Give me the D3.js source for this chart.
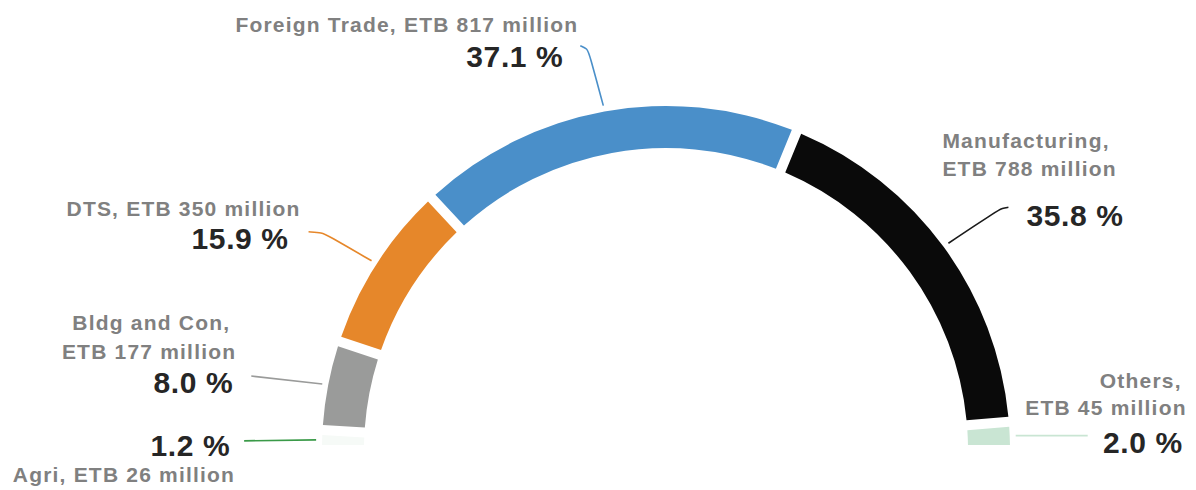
<!DOCTYPE html>
<html>
<head>
<meta charset="utf-8">
<script src="https://cdn.jsdelivr.net/npm/d3@7"></script>
<style>
  body { margin: 0; background: #fff; }
  .name { font-family: "Liberation Sans", Arial, sans-serif; font-weight: bold; font-size: 21px; fill: #808080; letter-spacing: 1.2px; }
  .pct { font-family: "Liberation Sans", Arial, sans-serif; font-weight: bold; font-size: 30px; fill: #262626; letter-spacing: 0.6px; }
</style>
</head>
<body>
<div id="chart"></div>
<script>
// data
var categories = ["Agri", "Bldg and Con", "DTS", "Foreign Trade", "Manufacturing", "Others"];
var amounts = [26, 177, 350, 817, 788, 45];        // ETB million
var shares = [1.2, 8.0, 15.9, 37.1, 35.8, 2.0];    // percent
var colors = ["#f6faf7", "#9a9b9a", "#e6872a", "#4a8fc9", "#0a0a0a", "#c9e5d3"];
var lineColors = ["#3a9a48", "#9a9b9a", "#e6872a", "#4a8fc9", "#1a1a1a", "#c9e5d3"];

var cfg = {
  width: 1196,
  height: 490,
  cx: 666,
  cy: 450,
  outer: 344,
  inner: 302,
  pad: 0.022
};

// label layout: leader points relative to the arc, texts relative to leader end
var layout = {
  "Agri":          { pts: [[0, 0], [-72, 1]], anchor: "end",
                     pct: [-14, 15], name: [[-9, 41]] },
  "Bldg and Con":  { pts: [[0, 0], [-71, -8]], anchor: "end",
                     pct: [-18, 17], name: [[-21, -46], [-15, -17]] },
  "DTS":           { pts: [[0, 0], [-45, -26], [-49, -28], [-63, -29]], anchor: "end",
                     pct: [-20, 17], name: [[-8, -16]] },
  "Foreign Trade": { pts: [[0, 0], [-14, -52], [-16, -57], [-23, -60]], anchor: "end",
                     pct: [-17, 21], name: [[-2, -14]] },
  "Manufacturing": { pts: [[0, 0], [48, -32], [54, -35], [60, -36]], anchor: "start",
                     pct: [18, 19], name: [[-66, -59], [-66, -31]], nameAnchor: "start" },
  "Others":        { pts: [[0, 0], [72, 0]], anchor: "end",
                     pct: [95, 17], name: [[94, -48], [99, -21]] }
};

function nameLines(c, i) {
  var amt = "ETB " + amounts[i] + " million";
  if (layout[c].name.length === 2) return [c + ",", amt];
  return [c + ", " + amt];
}

var svg = d3.select("#chart").append("svg")
    .attr("width", cfg.width)
    .attr("height", cfg.height);

var g = svg.append("g").attr("transform", "translate(" + cfg.cx + "," + cfg.cy + ")");

var pie = d3.pie()
    .sort(null)
    .value(function(d) { return d; })
    .startAngle(-Math.PI / 2)
    .endAngle(Math.PI / 2)
    .padAngle(cfg.pad);

var arc = d3.arc()
    .innerRadius(cfg.inner)
    .outerRadius(cfg.outer);

var arcs = pie(shares);

g.selectAll(".slice")
    .data(arcs).enter()
    .append("path")
    .attr("class", "slice")
    .attr("d", arc)
    .style("fill", function(d, i) { return colors[i]; });

var leader = d3.line().curve(d3.curveBasis);

arcs.forEach(function(d, i) {
  var c = categories[i],
      L = layout[c],
      mid = (d.startAngle + d.endAngle) / 2,
      r = cfg.outer + 6,
      sx = Math.sin(mid) * r,
      sy = -Math.cos(mid) * r;

  var pts = L.pts.map(function(p) { return [sx + p[0], sy + p[1]]; });
  var end = pts[pts.length - 1];

  g.append("path")
      .attr("d", leader(pts))
      .style("fill", "none")
      .style("stroke", lineColors[i])
      .style("stroke-width", 1.6);

  g.append("text")
      .attr("class", "pct")
      .attr("x", end[0] + L.pct[0])
      .attr("y", end[1] + L.pct[1])
      .attr("text-anchor", L.anchor)
      .text(shares[i].toFixed(1) + " %");

  nameLines(c, i).forEach(function(t, j) {
    g.append("text")
        .attr("class", "name")
        .attr("x", end[0] + L.name[j][0])
        .attr("y", end[1] + L.name[j][1])
        .attr("text-anchor", L.nameAnchor || L.anchor)
        .text(t);
  });
});
</script>
</body>
</html>
